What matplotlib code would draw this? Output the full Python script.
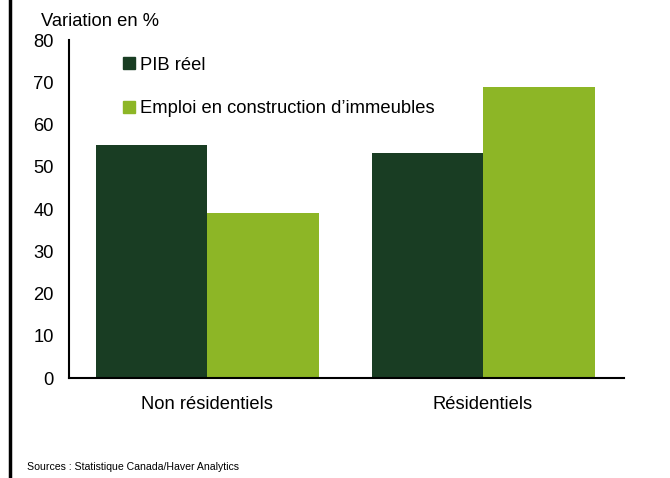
import matplotlib.pyplot as plt
from matplotlib.patches import Patch
from matplotlib.lines import Line2D
import numpy as np

plt.rcParams['font.family'] = ['Liberation Sans', 'DejaVu Sans']

categories = ['Non résidentiels', 'Résidentiels']
pib_reel = [55.1, 53.4]
emploi_construction = [39.0, 68.9]
series_labels = ['PIB réel', 'Emploi en construction d\u2019immeubles']
colors = ['#193D23', '#8DB626']

fig = plt.figure(figsize=(6.7, 4.78), dpi=100)
ax = fig.add_axes([0.103, 0.209, 0.828, 0.707])

x = np.arange(len(categories))
w = 0.404
ax.bar(x - w / 2, pib_reel, w, color=colors[0])
ax.bar(x + w / 2, emploi_construction, w, color=colors[1])

ax.set_xlim(-0.5, 1.51)
ax.set_ylim(0, 80)
ax.set_yticks(range(0, 81, 10))
ax.set_xticks(x)
ax.set_xticklabels(categories, fontsize=13.2)
ax.tick_params(axis='both', length=0, labelsize=13.2)
ax.tick_params(axis='y', pad=11)
ax.tick_params(axis='x', pad=13)
for s in ['top', 'right']:
    ax.spines[s].set_visible(False)
for s in ['left', 'bottom']:
    ax.spines[s].set_linewidth(1.5)

fig.text(0.061, 0.955, 'Variation en %', fontsize=13.2, va='center')

handles = [Patch(color=c) for c in colors]
ax.legend(handles, series_labels, loc='upper left', bbox_to_anchor=(0.097, 0.951),
          frameon=False, fontsize=13.2, handlelength=0.66, handleheight=0.66,
          handletextpad=0.3, labelspacing=1.45, borderpad=0, borderaxespad=0)

fig.text(0.04, 0.012, 'Sources : Statistique Canada/Haver Analytics', fontsize=7.6, va='bottom')
fig.add_artist(Line2D([0.0150, 0.0150], [0, 1], transform=fig.transFigure,
                      color='black', linewidth=2.5))

fig.savefig('out.png', dpi=100)
